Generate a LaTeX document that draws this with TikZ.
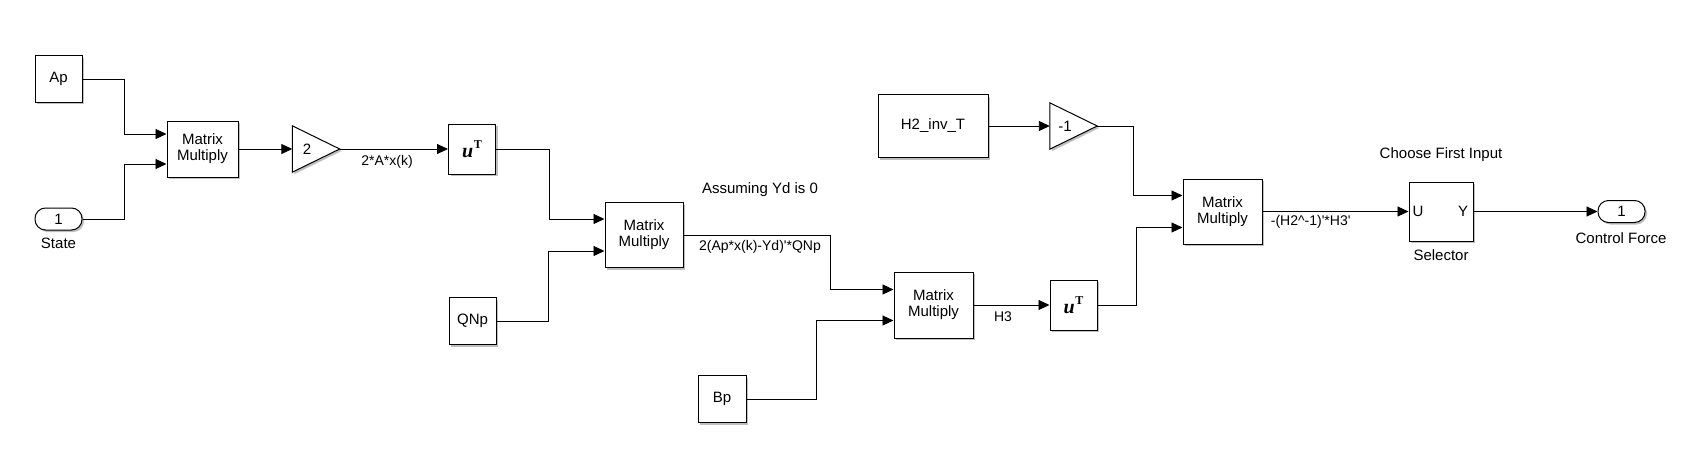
\documentclass[tikz,border=0pt]{standalone}
\usepackage{fontspec}
\setmainfont{Liberation Sans}
\newfontfamily\uTfont{Liberation Serif}
\usetikzlibrary{arrows.meta,shadows}
\newcommand{\uTsym}{{\uTfont\bfseries\itshape\fontsize{20}{20}\selectfont u}\kern0.6pt\raisebox{8.6pt}{\uTfont\bfseries\fontsize{12}{12}\selectfont T}}
\begin{document}
\begin{tikzpicture}[x=1pt,y=-1pt,
  every node/.style={font=\fontsize{15}{16}\selectfont, inner sep=0pt},
  shad/.style={drop shadow={shadow xshift=2pt,shadow yshift=-2pt,opacity=0.25,fill=black}},
  blk/.style={draw, fill=white, line width=1pt, shad, align=center},
  port/.style={blk, rounded corners=10.5pt, minimum width=47pt, minimum height=22pt},
  gainbox/.style={minimum width=47pt, minimum height=46pt},
  gaintri/.style={draw, fill=white, line width=1pt, shad, line join=miter},
  sig/.style={line width=0.9pt, -{Triangle[length=11pt,width=10pt]}},
  lbl/.style={font=\fontsize{14}{15}\selectfont},
  uT/.style={blk, minimum width=47pt, minimum height=50pt}
]
\useasboundingbox (0,0) rectangle (1686,460);
\fill[white] (0,0) rectangle (1686,460);

% blocks
\node[blk, minimum width=47pt, minimum height=46pt] (ap) at (58.5,79) {Ap};
\node[port] (state) at (58.5,219) {1};
\node (statel) at (58.5,243) {State};
\node[blk, minimum width=71pt, minimum height=56pt] (mm1) at (202.5,149) {Matrix\\Multiply};
\node[gainbox] (g2) at (316,149) {};
\draw[gaintri] (g2.north west) -- (g2.east) -- (g2.south west) -- cycle;
\node (g2t) at (307,149) {2};
\node[uT] (ut1) at (472,149) {\uTsym};
\node[lbl] (l1) at (387,162) {2*A*x(k)};
\node[blk, minimum width=78pt, minimum height=65pt] (mm2) at (644,235) {Matrix\\Multiply};
\node[blk, minimum width=47pt, minimum height=47pt] (qnp) at (472.5,321) {QNp};
\node (ann1) at (760,190) {Assuming Yd is 0};
\node[lbl] (l2) at (760,247) {2(Ap*x(k)-Yd)\textquotesingle*QNp};
\node[blk, minimum width=110pt, minimum height=63pt] (h2) at (933,126) {H2\_inv\_T};
\node[gainbox] (gm1) at (1073.5,126) {};
\draw[gaintri] (gm1.north west) -- (gm1.east) -- (gm1.south west) -- cycle;
\node (gm1t) at (1065,126) {-1};
\node[blk, minimum width=79pt, minimum height=66pt] (mm4) at (933.5,305) {Matrix\\Multiply};
\node[blk, minimum width=48pt, minimum height=47pt] (bp) at (722,399) {Bp};
\node[lbl] (l3) at (1003,317) {H3};
\node[uT] (ut2) at (1073.5,305) {\uTsym};
\node[blk, minimum width=79pt, minimum height=65pt] (mm3) at (1222.5,211.5) {Matrix\\Multiply};
\node[lbl] (l4) at (1310.7,221.7) {-(H2\textasciicircum-1)\textquotesingle*H3\textquotesingle};
\node[blk, minimum width=64pt, minimum height=59pt] (sel) at (1441,211.5) {};
\node (selU) at (1418,211.5) {U};
\node (selY) at (1463,211.5) {Y};
\node (sell) at (1441,255) {Selector};
\node (ann2) at (1441,155) {Choose First Input};
\node[port] (out) at (1621.5,211.5) {1};
\node (outl) at (1621,238) {Control Force};

% connectors
\draw[sig] (ap.east) -| ([xshift=-42pt,yshift=15pt]mm1.west) -- ([yshift=15pt]mm1.west);
\draw[sig] (state.east) -| ([xshift=-42pt,yshift=-15pt]mm1.west) -- ([yshift=-15pt]mm1.west);
\draw[sig] (mm1.east) -- (g2.west);
\draw[sig] (g2.east) -- (ut1.west);
\draw[sig] (ut1.east) -| ([xshift=-55pt,yshift=16pt]mm2.west) -- ([yshift=16pt]mm2.west);
\draw[sig] (qnp.east) -| ([xshift=-56pt,yshift=-16pt]mm2.west) -- ([yshift=-16pt]mm2.west);
\draw[sig] (mm2.east) -| ([xshift=-63pt,yshift=15.5pt]mm4.west) -- ([yshift=15.5pt]mm4.west);
\draw[sig] (bp.east) -| ([xshift=-77pt,yshift=-15.5pt]mm4.west) -- ([yshift=-15.5pt]mm4.west);
\draw[sig] (mm4.east) -- (ut2.west);
\draw[sig] (h2.east) -- (gm1.west);
\draw[sig] (gm1.east) -| ([xshift=-49pt,yshift=16pt]mm3.west) -- ([yshift=16pt]mm3.west);
\draw[sig] (ut2.east) -| ([xshift=-46pt,yshift=-16pt]mm3.west) -- ([yshift=-16pt]mm3.west);
\draw[sig] (mm3.east) -- (sel.west);
\draw[sig] (sel.east) -- (out.west);
\end{tikzpicture}
\end{document}
